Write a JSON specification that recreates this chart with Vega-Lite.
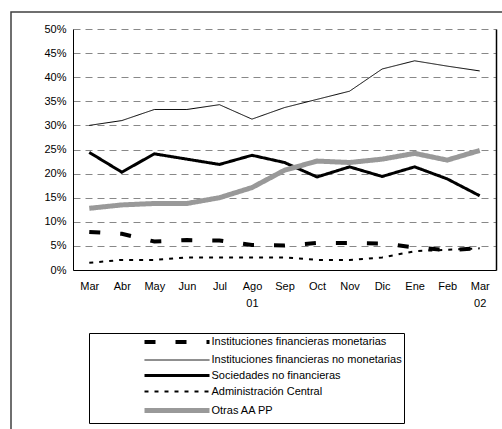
{
  "$schema": "https://vega.github.io/schema/vega-lite/v6.json",
  "width": 495,
  "height": 420,
  "autosize": {"type": "none"},
  "padding": {"left": 11, "top": 12, "right": 0, "bottom": 0},
  "background": "white",
  "config": {
    "font": "Liberation Sans",
    "view": {"stroke": "#404040", "strokeWidth": 1.5},
    "axis": {"labelFont": "Liberation Sans", "labelFontSize": 11, "labelColor": "black", "ticks": false, "title": null},
    "legend": {"orient": "none", "legendX": 78, "legendY": 321,
               "strokeColor": "black", "padding": 2, "symbolType": "M-6.5,0H6.5", "symbolSize": 100, "symbolOffset": 78.5, "labelOffset": 27,
               "labelFont": "Liberation Sans", "labelFontSize": 11, "labelColor": "black", "rowPadding": 3.5, "labelLimit": 400}
  },
  "data": {"values": [
    {"m":"Mar 01","s":"Instituciones financieras monetarias","v":7.9},
    {"m":"Abr 01","s":"Instituciones financieras monetarias","v":7.5},
    {"m":"May 01","s":"Instituciones financieras monetarias","v":5.9},
    {"m":"Jun 01","s":"Instituciones financieras monetarias","v":6.2},
    {"m":"Jul 01","s":"Instituciones financieras monetarias","v":6.1},
    {"m":"Ago 01","s":"Instituciones financieras monetarias","v":5.2},
    {"m":"Sep 01","s":"Instituciones financieras monetarias","v":5.1},
    {"m":"Oct 01","s":"Instituciones financieras monetarias","v":5.6},
    {"m":"Nov 01","s":"Instituciones financieras monetarias","v":5.6},
    {"m":"Dic 01","s":"Instituciones financieras monetarias","v":5.5},
    {"m":"Ene 02","s":"Instituciones financieras monetarias","v":4.7},
    {"m":"Feb 02","s":"Instituciones financieras monetarias","v":4.1},
    {"m":"Mar 02","s":"Instituciones financieras monetarias","v":4.5},
    {"m":"Mar 01","s":"Instituciones financieras no monetarias","v":30.0},
    {"m":"Abr 01","s":"Instituciones financieras no monetarias","v":31.0},
    {"m":"May 01","s":"Instituciones financieras no monetarias","v":33.3},
    {"m":"Jun 01","s":"Instituciones financieras no monetarias","v":33.3},
    {"m":"Jul 01","s":"Instituciones financieras no monetarias","v":34.3},
    {"m":"Ago 01","s":"Instituciones financieras no monetarias","v":31.3},
    {"m":"Sep 01","s":"Instituciones financieras no monetarias","v":33.7},
    {"m":"Oct 01","s":"Instituciones financieras no monetarias","v":35.4},
    {"m":"Nov 01","s":"Instituciones financieras no monetarias","v":37.1},
    {"m":"Dic 01","s":"Instituciones financieras no monetarias","v":41.7},
    {"m":"Ene 02","s":"Instituciones financieras no monetarias","v":43.4},
    {"m":"Feb 02","s":"Instituciones financieras no monetarias","v":42.3},
    {"m":"Mar 02","s":"Instituciones financieras no monetarias","v":41.3},
    {"m":"Mar 01","s":"Sociedades no financieras","v":24.4},
    {"m":"Abr 01","s":"Sociedades no financieras","v":20.3},
    {"m":"May 01","s":"Sociedades no financieras","v":24.1},
    {"m":"Jun 01","s":"Sociedades no financieras","v":23.0},
    {"m":"Jul 01","s":"Sociedades no financieras","v":21.9},
    {"m":"Ago 01","s":"Sociedades no financieras","v":23.8},
    {"m":"Sep 01","s":"Sociedades no financieras","v":22.3},
    {"m":"Oct 01","s":"Sociedades no financieras","v":19.3},
    {"m":"Nov 01","s":"Sociedades no financieras","v":21.4},
    {"m":"Dic 01","s":"Sociedades no financieras","v":19.4},
    {"m":"Ene 02","s":"Sociedades no financieras","v":21.4},
    {"m":"Feb 02","s":"Sociedades no financieras","v":18.9},
    {"m":"Mar 02","s":"Sociedades no financieras","v":15.4},
    {"m":"Mar 01","s":"Administración Central","v":1.5},
    {"m":"Abr 01","s":"Administración Central","v":2.1},
    {"m":"May 01","s":"Administración Central","v":2.1},
    {"m":"Jun 01","s":"Administración Central","v":2.6},
    {"m":"Jul 01","s":"Administración Central","v":2.6},
    {"m":"Ago 01","s":"Administración Central","v":2.6},
    {"m":"Sep 01","s":"Administración Central","v":2.6},
    {"m":"Oct 01","s":"Administración Central","v":2.1},
    {"m":"Nov 01","s":"Administración Central","v":2.1},
    {"m":"Dic 01","s":"Administración Central","v":2.6},
    {"m":"Ene 02","s":"Administración Central","v":3.9},
    {"m":"Feb 02","s":"Administración Central","v":4.2},
    {"m":"Mar 02","s":"Administración Central","v":4.5},
    {"m":"Mar 01","s":"Otras AA PP","v":12.8},
    {"m":"Abr 01","s":"Otras AA PP","v":13.5},
    {"m":"May 01","s":"Otras AA PP","v":13.8},
    {"m":"Jun 01","s":"Otras AA PP","v":13.8},
    {"m":"Jul 01","s":"Otras AA PP","v":15.0},
    {"m":"Ago 01","s":"Otras AA PP","v":17.1},
    {"m":"Sep 01","s":"Otras AA PP","v":20.7},
    {"m":"Oct 01","s":"Otras AA PP","v":22.6},
    {"m":"Nov 01","s":"Otras AA PP","v":22.3},
    {"m":"Dic 01","s":"Otras AA PP","v":23.0},
    {"m":"Ene 02","s":"Otras AA PP","v":24.2},
    {"m":"Feb 02","s":"Otras AA PP","v":22.8},
    {"m":"Mar 02","s":"Otras AA PP","v":24.8}
  ]},
  "encoding": {
    "x": {
      "field": "m", "type": "ordinal",
      "sort": ["Mar 01","Abr 01","May 01","Jun 01","Jul 01","Ago 01","Sep 01","Oct 01","Nov 01","Dic 01","Ene 02","Feb 02","Mar 02"],
      "scale": {"type": "point", "range": [62, 485], "padding": 0.5},
      "axis": {
        "orient": "bottom", "offset": -162, "grid": false, "labelAngle": 0,
        "domainColor": "black", "domainWidth": 1, "labelPadding": 10, "labelLineHeight": 17,
        "labelExpr": "(datum.value == 'Ago 01' || datum.value == 'Mar 02') ? split(datum.value, ' ') : split(datum.value, ' ')[0]"
      }
    }
  },
  "layer": [
    {
      "mark": {"type": "line"},
      "encoding": {
        "y": {
          "field": "v", "type": "quantitative",
          "scale": {"domain": [0, 50], "range": [258, 17], "nice": false},
          "axis": {
            "orient": "left", "offset": -62, "values": [0,5,10,15,20,25,30,35,40,45,50],
            "labelExpr": "datum.value + '%'", "grid": true, "gridColor": "#888888", "gridDash": [7, 5],
            "domainColor": "black", "domainWidth": 1, "labelPadding": 7
          }
        },
        "color": {
          "field": "s", "type": "nominal",
          "scale": {"domain": ["Instituciones financieras monetarias","Instituciones financieras no monetarias","Sociedades no financieras","Administración Central","Otras AA PP"],
                    "range": ["black","black","black","black","#999999"]},
          "legend": {"title": null}
        },
        "strokeDash": {
          "field": "s", "type": "nominal",
          "scale": {"domain": ["Instituciones financieras monetarias","Instituciones financieras no monetarias","Sociedades no financieras","Administración Central","Otras AA PP"],
                    "range": [[11, 20],[1, 0],[1, 0],[4, 6],[1, 0]]},
          "legend": {"title": null}
        },
        "strokeWidth": {
          "field": "s", "type": "nominal",
          "scale": {"type": "ordinal", "domain": ["Instituciones financieras monetarias","Instituciones financieras no monetarias","Sociedades no financieras","Administración Central","Otras AA PP"],
                    "range": [4, 1, 3, 2, 5]},
          "legend": {"title": null}
        }
      }
    },
    {
      "mark": {"type": "line", "opacity": 0},
      "encoding": {
        "y": {
          "field": "v", "type": "quantitative",
          "axis": {"orient": "right", "offset": -10, "labels": false, "grid": false, "domainColor": "black", "domainWidth": 1.5}
        },
        "detail": {"field": "s"}
      }
    }
  ],
  "resolve": {"axis": {"y": "independent"}}
}
